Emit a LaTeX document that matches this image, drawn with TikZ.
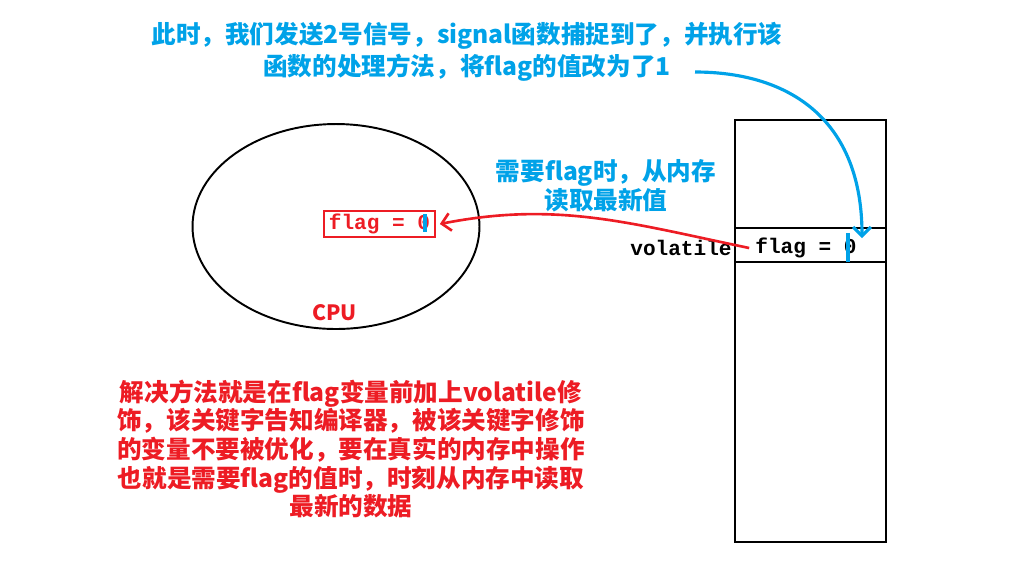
\documentclass[tikz,border=0pt]{standalone}
\usepackage{fontspec}
\newfontfamily\cjk{Noto Sans CJK SC}
\setmonofont{Liberation Mono}
\usepackage{tikz}
\usetikzlibrary{arrows.meta,shapes.geometric}
\definecolor{paintblue}{RGB}{0,162,232}
\definecolor{paintred}{RGB}{237,28,36}

\begin{document}
\begin{tikzpicture}[x=0.02cm,y=-0.02cm,>={Straight Barb[length=5pt,width=10pt]},
  toptext/.style={font=\cjk\bfseries\fontsize{14}{18.2}\selectfont,align=center},
  readtext/.style={font=\cjk\bfseries\fontsize{14}{16.5}\selectfont,align=center},
  fixnote/.style={font=\cjk\bfseries\fontsize{14}{16.3}\selectfont,align=center},
  code/.style={font=\ttfamily\bfseries\fontsize{12}{14}\selectfont},
  cursor/.style={paintblue,line width=1.8pt}]
\useasboundingbox (0,0) rectangle (1011,583);
% signal remark on top
\node[toptext,paintblue] (sigtext) at (467,52) {此时，我们发送2号信号，signal函数捕捉到了，并执行该\\函数的处理方法，将flag的值改为了1};
% CPU with its cached copy
\node[draw,ellipse,line width=1.1pt,minimum width=5.74cm,minimum height=4.1cm] (cpu) at (336,226.5) {};
\node[font=\cjk\bfseries\fontsize{12}{14}\selectfont,paintred] (cpulabel) at (334.5,313) {CPU};
\node[code,paintred,draw=paintred,line width=1.5pt,inner sep=0pt,minimum width=2.22cm,minimum height=0.52cm] (cpuflag) at (379.5,224) {flag = 0};
\draw[cursor] (425,214) -- (425,232);
% memory
\draw[line width=1.5pt] (735,120) rectangle (886,542);
\draw[line width=1.5pt] (735,228) -- (886,228);
\draw[line width=1.5pt] (735,262) -- (886,262);
\node[code] (memflag) at (806,248) {flag = 0};
\node[code] (volkw) at (681,248) {volatile};
\draw[cursor] (848,233) -- (848,262);
\node[readtext,paintblue] (readnote) at (606,186) {需要flag时，从内存\\读取最新值};
% arrows
\draw[->,paintred,line width=1.5pt] (memflag.west) .. controls (629,223) and (557,201) .. ([xshift=2pt]cpuflag.east);
\coordinate (bluefrom) at (695,72);
\coordinate (blueto) at (862,238);
\draw[->,paintblue,line width=1.8pt] (bluefrom) .. controls (790,72) and (862,120) .. (blueto);
% solution text
\node[fixnote,paintred] (fixtext) at (351,449) {解决方法就是在flag变量前加上volatile修\\饰，该关键字告知编译器，被该关键字修饰\\的变量不要被优化，要在真实的内存中操作\\也就是需要flag的值时，时刻从内存中读取\\最新的数据};
\end{tikzpicture}
\end{document}
